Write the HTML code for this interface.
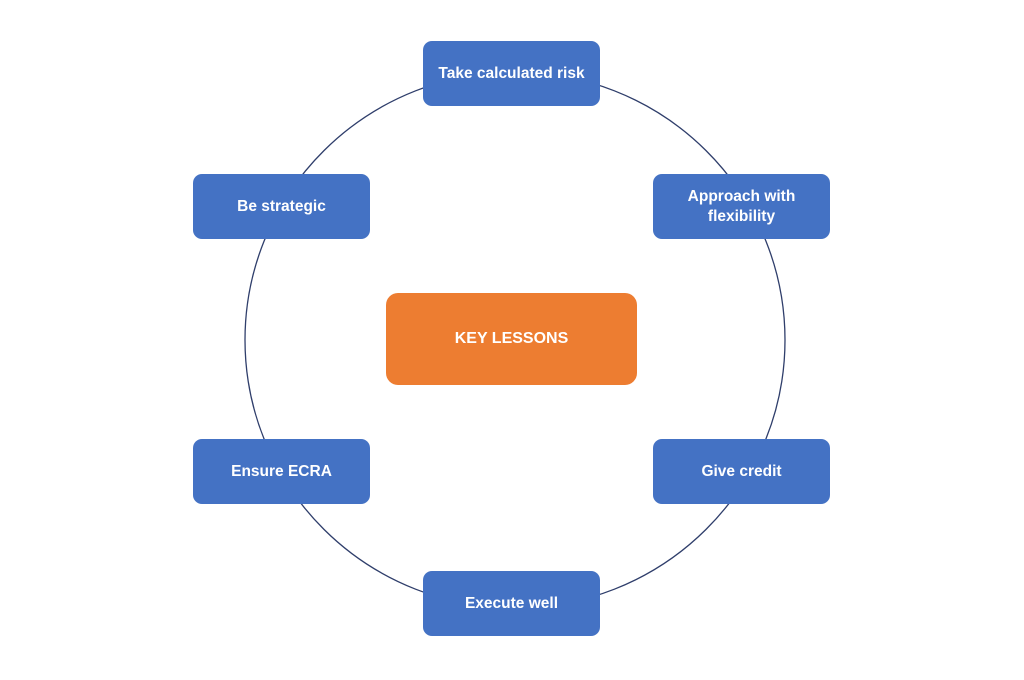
<!DOCTYPE html>
<html><head><style>
body{margin:0;width:1024px;height:680px;background:#fff;position:relative;overflow:hidden;font-family:"Liberation Sans",sans-serif}
.b{position:absolute;background:#4472C4;border-radius:9px;color:#fff;font-size:15.5px;font-weight:bold;display:flex;align-items:center;justify-content:center;text-align:center;line-height:20px;width:177px;height:65px;box-sizing:border-box;padding:0 8px}
.o{position:absolute;left:386px;top:293px;width:251px;height:92px;background:#ED7D31;border-radius:12px;color:#fff;font-size:16px;font-weight:bold;display:flex;align-items:center;justify-content:center}
</style></head><body>
<svg width="1024" height="680" style="position:absolute;left:0;top:0">
<ellipse cx="515" cy="340" rx="270" ry="268" fill="none" stroke="#2F3E6B" stroke-width="1.3"/>
</svg>
<div class="b" style="left:423px;top:41px">Take calculated risk</div>
<div class="b" style="left:193px;top:174px">Be strategic</div>
<div class="b" style="left:653px;top:174px">Approach with flexibility</div>
<div class="b" style="left:193px;top:439px">Ensure ECRA</div>
<div class="b" style="left:653px;top:439px">Give credit</div>
<div class="b" style="left:423px;top:571px">Execute well</div>
<div class="o">KEY LESSONS</div>
</body></html>
